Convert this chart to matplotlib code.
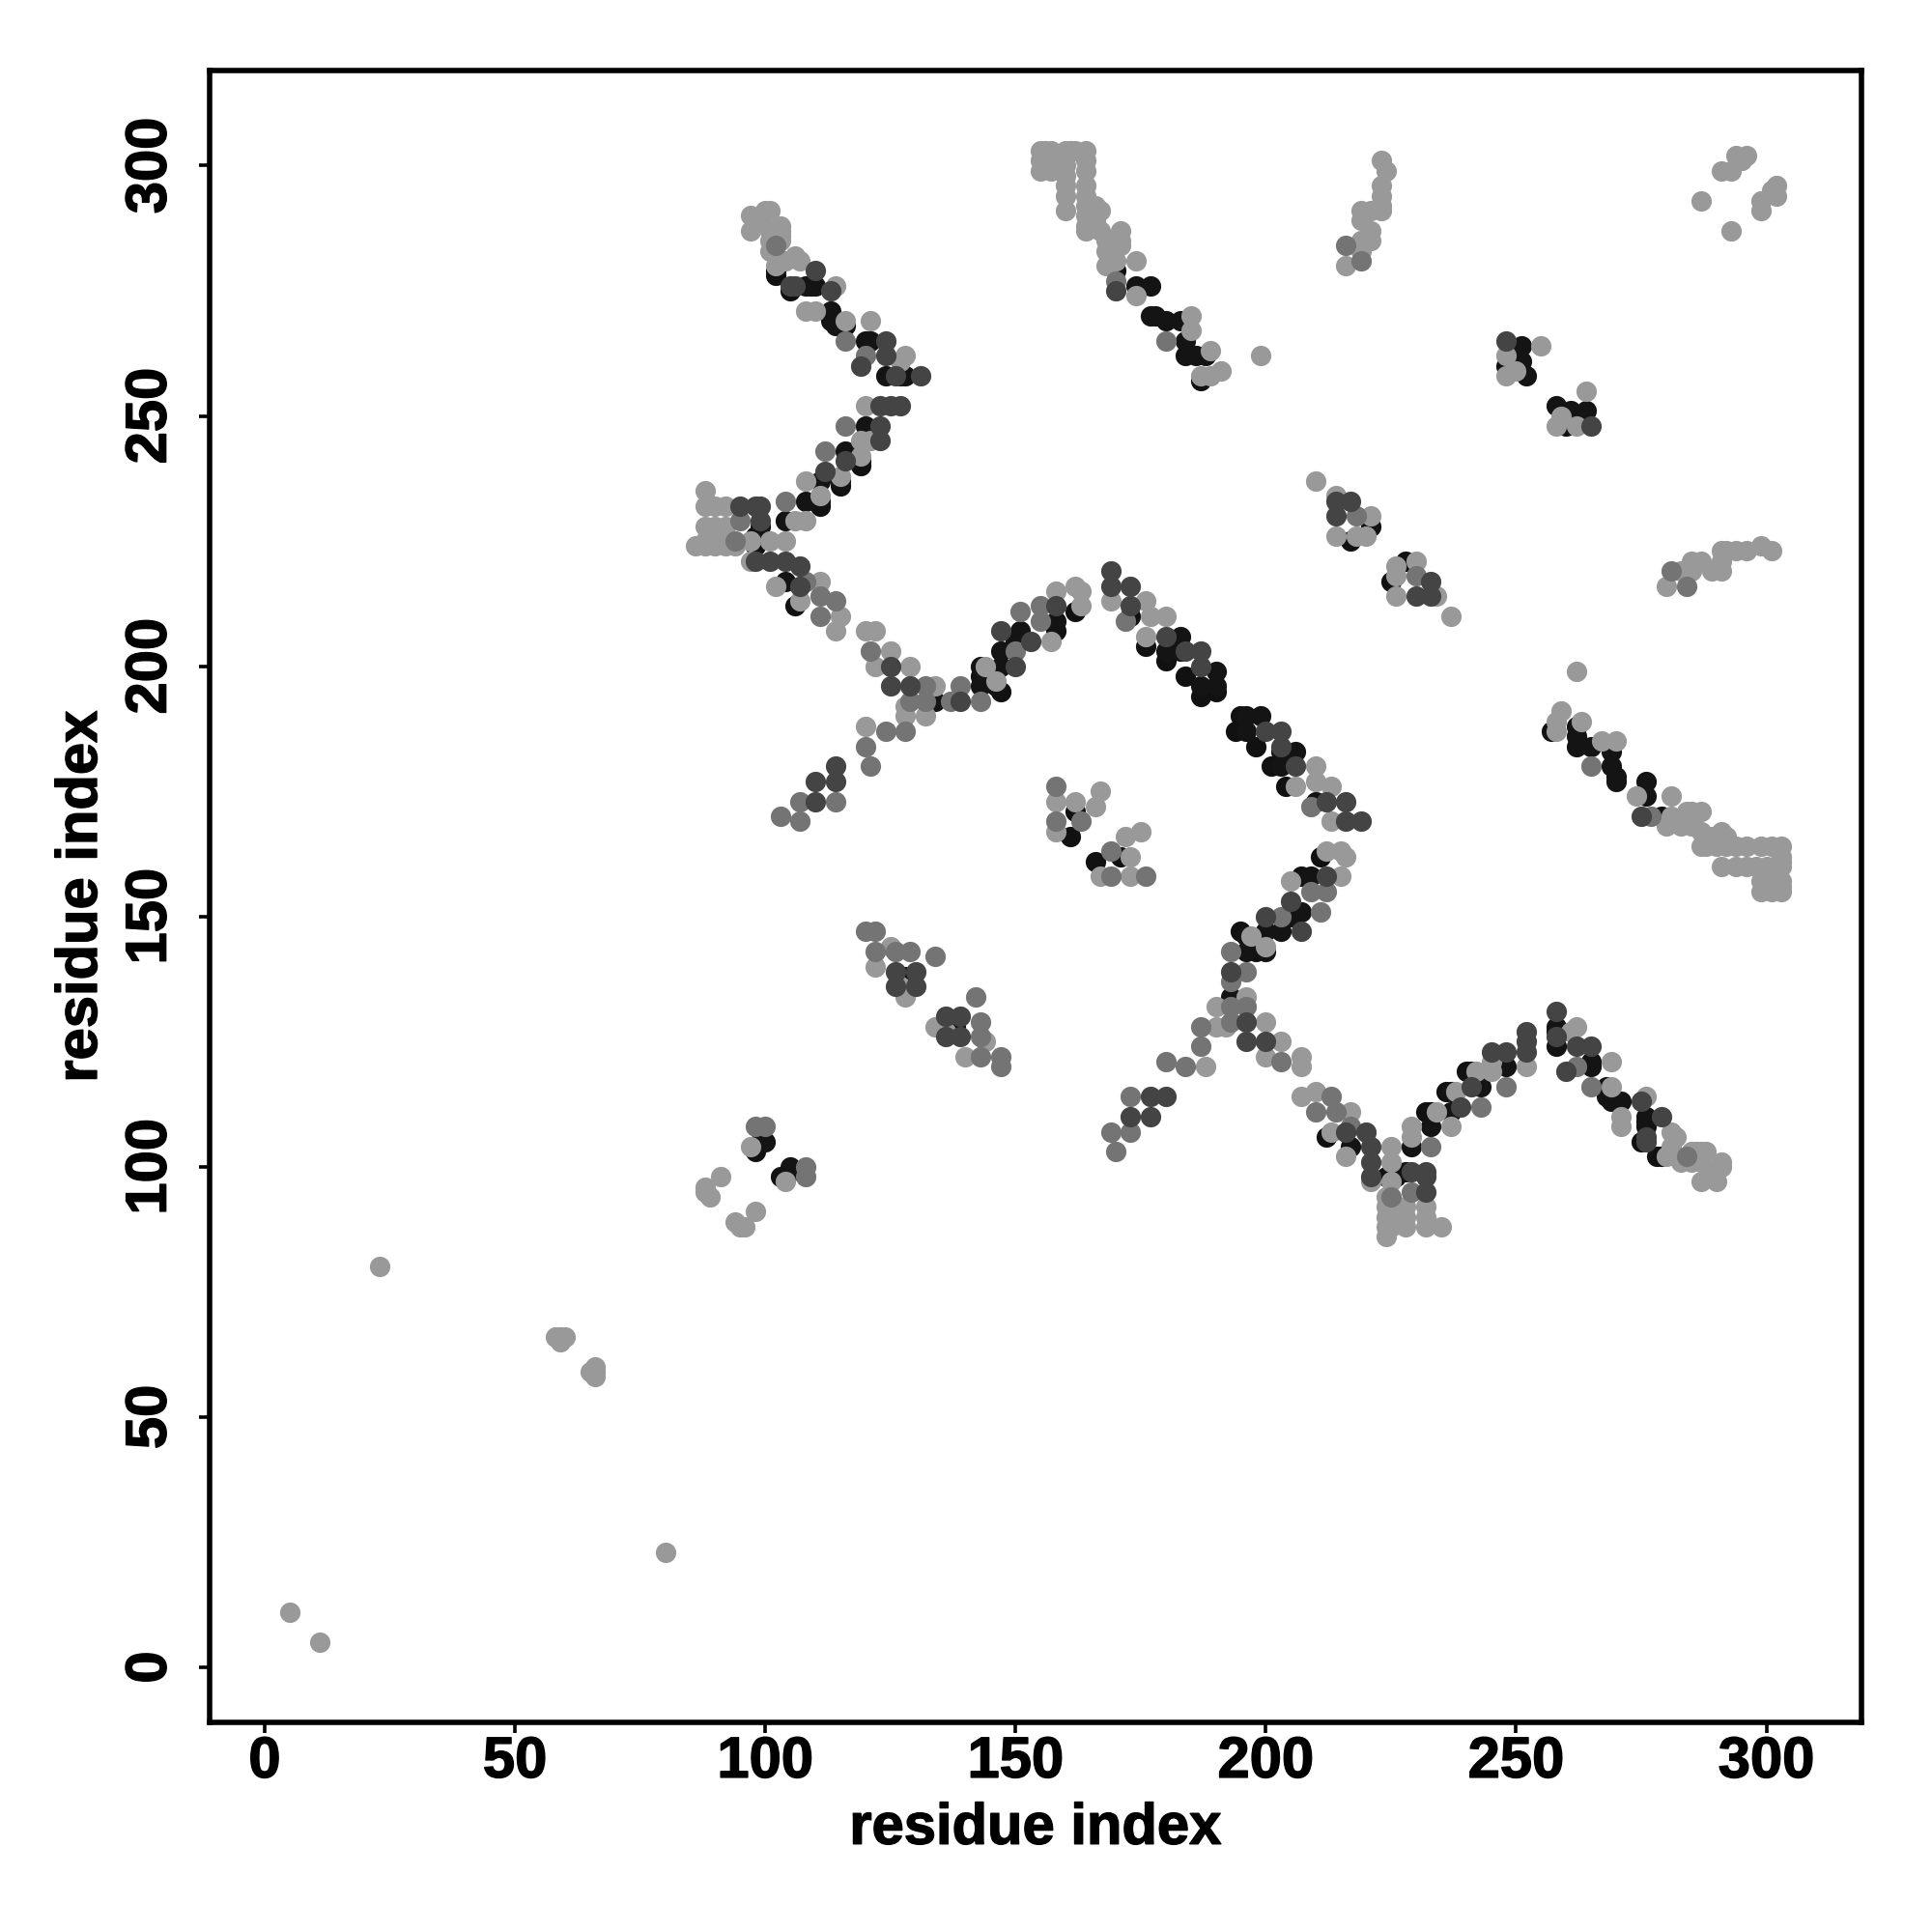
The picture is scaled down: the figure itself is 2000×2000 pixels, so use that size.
"""Residue contact map, upper triangle listed by shade and mirrored across the diagonal."""
import matplotlib
matplotlib.use("Agg")
import matplotlib.pyplot as plt
import matplotlib.patheffects as pe

# contacts as (i, j) with i < j
under_black = [
    (102, 279), (102, 278), (116, 268), (119, 241), (119, 240), (115, 236), (111, 233), (111, 232),
    (98, 226), (98, 224), (106, 212), (170, 279), (187, 257), (162, 211), (147, 195), (143, 198),
    (176, 204), (180, 201), (184, 198), (187, 194), (190, 195), (162, 171), (161, 166), (248, 260),
    (221, 228), (217, 225), (98, 103), (128, 138), (128, 137), (158, 207), (173, 210), (105, 275),
]
light = [
    (97, 290), (97, 287), (100, 291), (101, 291), (99, 289), (103, 288), (103, 287), (103, 286),
    (103, 285), (101, 287), (101, 285), (101, 283), (102, 282), (102, 280), (104, 281), (106, 282),
    (107, 281), (114, 276), (108, 271), (110, 271), (116, 269), (121, 269), (128, 262), (127, 261),
    (120, 252), (119, 245), (121, 245), (119, 242), (115, 238), (108, 237), (111, 234), (108, 229),
    (106, 229), (88, 235), (88, 232), (90, 232), (92, 232), (88, 228), (90, 228), (92, 228),
    (88, 225), (90, 225), (92, 225), (86, 224), (88, 224), (90, 224), (92, 224), (94, 224),
    (97, 225), (101, 225), (104, 225), (97, 221), (102, 216), (107, 213), (111, 217), (115, 210),
    (114, 207), (120, 207), (122, 207), (125, 203), (122, 200), (129, 200), (134, 196), (128, 192),
    (132, 190), (128, 190), (120, 188), (144, 200), (146, 197), (158, 215), (162, 216), (163, 215),
    (163, 212), (157, 205), (169, 213), (176, 213), (177, 210), (180, 210), (176, 206),
    (155, 303), (156, 303), (157, 303), (155, 301), (157, 301), (155, 299), (157, 299), (160, 303),
    (161, 303), (162, 303), (164, 303), (164, 301), (164, 299), (160, 302), (160, 300), (160, 298),
    (160, 296), (160, 294), (160, 291), (164, 296), (164, 294), (164, 292), (166, 292), (167, 291),
    (164, 290), (164, 288), (164, 287), (166, 289), (167, 287), (168, 285), (171, 287), (171, 285),
    (171, 284), (168, 283), (168, 280), (170, 281), (174, 281), (174, 274), (185, 270), (185, 267),
    (189, 263), (187, 258), (191, 259), (189, 258), (199, 262),
    (223, 301), (224, 299), (223, 296), (223, 294), (223, 292), (223, 291), (219, 291), (221, 291),
    (219, 289), (221, 287), (219, 285), (221, 285), (216, 280), (219, 283),
    (294, 302), (296, 302), (295, 301), (291, 299), (293, 299), (287, 293),
    (255, 264), (248, 262), (248, 258), (250, 259), (210, 237), (214, 234), (221, 230), (214, 226),
    (218, 226), (220, 226), (125, 144), (122, 140), (128, 134), (127, 136), (158, 173), (158, 167),
    (162, 173), (167, 175), (166, 172), (91, 98), (88, 96), (88, 95), (89, 94), (97, 104),
    (5, 11), (23, 80), (58, 66), (59, 66), (60, 66), (59, 65),
]
mid = [
    (102, 284), (116, 265), (120, 262), (116, 248), (112, 243), (104, 233), (95, 229), (94, 225),
    (108, 217), (111, 214), (114, 213), (111, 210), (121, 203), (120, 184), (124, 187), (121, 180),
    (129, 193), (132, 193), (132, 196), (139, 196), (137, 193), (143, 193), (151, 211), (155, 212),
    (155, 209), (150, 203), (172, 209), (158, 169), (163, 169), (170, 277), (180, 265), (216, 284),
    (219, 281), (103, 170), (107, 169), (107, 173), (114, 173), (120, 147), (122, 147), (122, 143),
    (126, 143), (129, 143), (134, 142), (158, 176), (128, 187), (98, 108), (100, 108), (218, 230),
]
dark = [
    (110, 279), (105, 276), (106, 276), (113, 275), (124, 265), (124, 262), (119, 260), (126, 258),
    (131, 258), (123, 252), (125, 252), (127, 252), (123, 248), (123, 245), (116, 241), (112, 239),
    (95, 232), (98, 232), (99, 232), (99, 229), (98, 221), (101, 221), (104, 221), (107, 220),
    (107, 216), (125, 200), (125, 196), (129, 196), (139, 193), (147, 207), (150, 200), (153, 205),
    (158, 212), (169, 219), (169, 216), (173, 216), (173, 212), (180, 206), (187, 203), (187, 200),
    (184, 203), (170, 275), (248, 265), (214, 233), (217, 233), (214, 230), (110, 177), (114, 177),
    (110, 173), (114, 180), (126, 139), (130, 139), (126, 136), (130, 136),
]
black = [
    (108, 276), (109, 276), (110, 276), (113, 271), (113, 269), (114, 268), (120, 265), (121, 265),
    (124, 258), (127, 258), (128, 258), (120, 248), (116, 243), (115, 237), (111, 237), (108, 233),
    (104, 229), (99, 228), (104, 217), (134, 193), (143, 196), (143, 200), (146, 196), (147, 200),
    (147, 203), (151, 207), (150, 205), (158, 209), (180, 203), (183, 206), (183, 203), (190, 199),
    (187, 196), (190, 196), (174, 276), (177, 276), (177, 270), (178, 270), (180, 269), (183, 269),
    (184, 265), (184, 262), (186, 262), (188, 262), (251, 264), (251, 261), (252, 258), (99, 105),
    (100, 105),
]

tick_values = [0, 50, 100, 150, 200, 250, 300]
axis_label = "residue index"

layers = [
    (under_black, "#111111"),
    (black, "#141414"),
    (light, "#999999"),
    (mid, "#747474"),
    (dark, "#444444"),
]

plt.rcParams["font.family"] = ["Liberation Sans", "DejaVu Sans"]
plt.rcParams["font.weight"] = "bold"

fig = plt.figure(figsize=(10, 10), dpi=200)
ax = fig.add_axes([217 / 2000, 1 - 1783 / 2000, 1710 / 2000, 1710 / 2000])

for pts, color in layers:
    xs = [p[0] for p in pts] + [p[1] for p in pts]
    ys = [p[1] for p in pts] + [p[0] for p in pts]
    ax.scatter(xs, ys, s=58, c=color, linewidths=0, zorder=2)

ax.set_xlim(-11, 319)
ax.set_ylim(-11, 319)
ax.set_xticks(tick_values)
ax.set_yticks(tick_values)
ax.tick_params(axis="x", width=1.3, length=4, labelsize=21.5, pad=1)
ax.tick_params(axis="y", width=1.3, length=4, labelsize=21.5, pad=8)
for lab in ax.get_yticklabels():
    lab.set_rotation(90)
    lab.set_va("center")
for spine in ax.spines.values():
    spine.set_linewidth(2)
ax.set_xlabel(axis_label, fontsize=21.5, fontweight="bold", labelpad=5)
ax.set_ylabel(axis_label, fontsize=21.5, fontweight="bold", labelpad=6)

# the reference type is a little heavier than Liberation bold
stroke = [pe.withStroke(linewidth=0.5, foreground="black")]
for t in ax.get_xticklabels() + ax.get_yticklabels() + [ax.xaxis.label, ax.yaxis.label]:
    t.set_path_effects(stroke)

fig.savefig("out.png", dpi=200)
